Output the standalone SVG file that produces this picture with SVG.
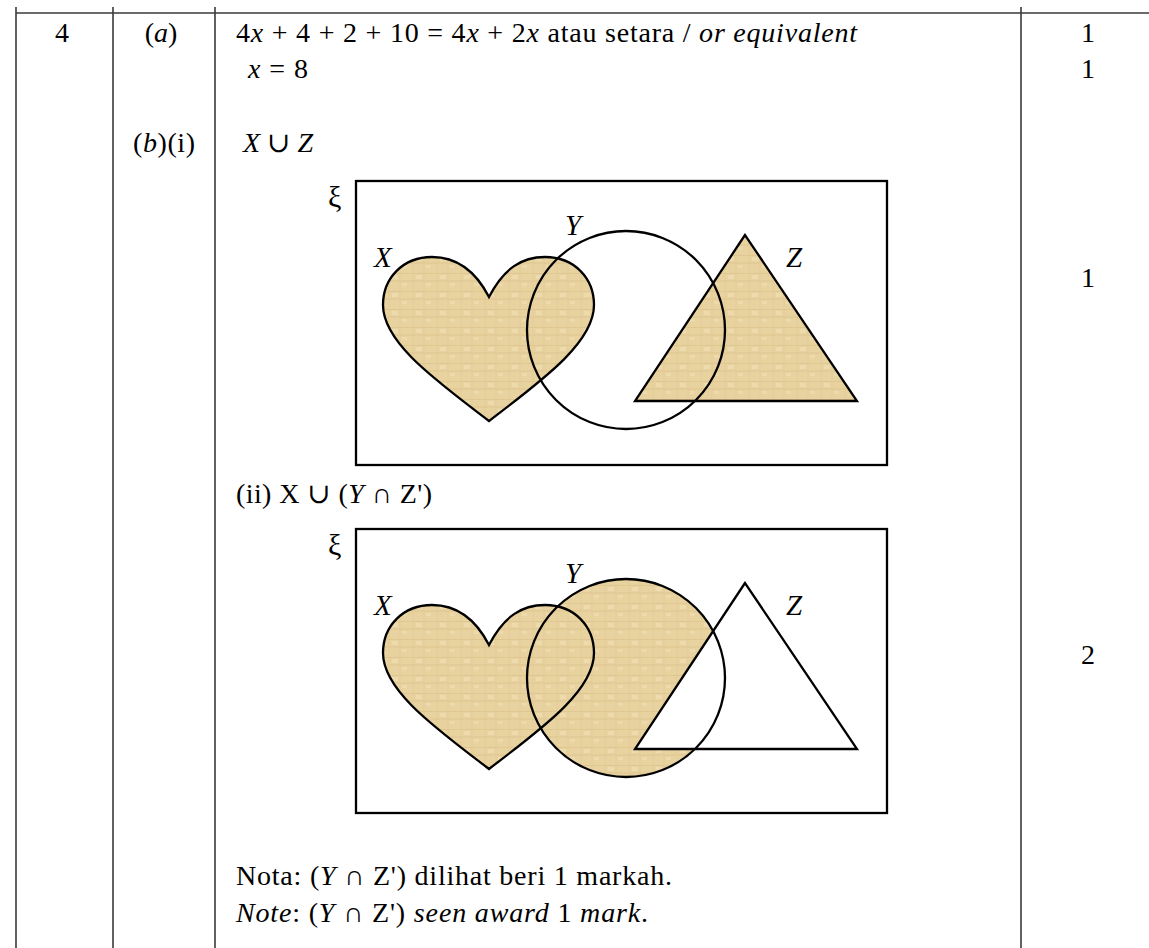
<svg xmlns="http://www.w3.org/2000/svg" width="1149" height="948" viewBox="0 0 1149 948">
<style>
svg text, svg tspan{font-family:'Liberation Serif','DejaVu Serif',serif}
text{font-size:28px;fill:#000}
.lbl{font-size:29px;font-style:italic}
.xi{font-size:30px}
.i{font-style:italic}
.grid{stroke:#3a3a3a;stroke-width:1.6;fill:none}
.frame{fill:none;stroke:#000;stroke-width:2.3}
.sh{stroke:#000;stroke-width:2.3;fill:none;stroke-linejoin:miter}
.tan{fill:url(#papyrus)}
.c{text-anchor:middle}
</style>
<defs>
<pattern id="papyrus" patternUnits="userSpaceOnUse" width="24" height="18">
<rect width="24" height="18" fill="#E8D29F"/>
<path d="M0 3.5H24M0 11H24" stroke="#D8BE87" stroke-width="1" opacity="0.55"/>
<path d="M5 0V18M16 0V18" stroke="#DDC48E" stroke-width="1" opacity="0.45"/>
<rect x="8" y="5" width="6" height="4" fill="#F0DFB4" opacity="0.7"/>
<rect x="18" y="13" width="5" height="3" fill="#F0DFB4" opacity="0.6"/>
</pattern>
<path id="heart" d="M489,297 C474,268 455,257 432,257 C403,257 383,278 383,305 C383,343 437,381 489,421 C541,381 594,343 594,305 C594,278 574,257 545,257 C522,257 504,268 489,297 Z"/>
</defs>

<g id="table">
<line class="grid" x1="16" y1="13" x2="1149" y2="13"/>
<line class="grid" x1="16" y1="7" x2="16" y2="948"/>
<line class="grid" x1="113" y1="7" x2="113" y2="948"/>
<line class="grid" x1="215" y1="7" x2="215" y2="948"/>
<line class="grid" x1="1021" y1="7" x2="1021" y2="948"/>
</g>

<g id="row-text">
<text x="62" y="42" class="c">4</text>
<text x="161" y="42" class="c">(<tspan class="i">a</tspan>)</text>
<text x="236" y="42" textLength="621" lengthAdjust="spacing">4<tspan class="i">x</tspan> + 4 + 2 + 10 = 4<tspan class="i">x</tspan> + 2<tspan class="i">x</tspan> atau setara / <tspan class="i">or equivalent</tspan></text>
<text x="248" y="78" textLength="60" lengthAdjust="spacing"><tspan class="i">x</tspan> = 8</text>
<text x="133" y="152" textLength="62" lengthAdjust="spacing">(<tspan class="i">b</tspan>)(i)</text>
<text x="243" y="152" class="i">X ∪ Z</text>
<text x="236" y="503" textLength="196" lengthAdjust="spacing">(ii) X ∪ (<tspan class="i">Y</tspan> ∩ Z')</text>
<text x="236" y="885" textLength="436" lengthAdjust="spacing">Nota: (<tspan class="i">Y</tspan> ∩ Z') dilihat beri 1 markah.</text>
<text x="236" y="922" textLength="412" lengthAdjust="spacing"><tspan class="i">Note</tspan>: (<tspan class="i">Y</tspan> ∩ Z') <tspan class="i">seen award</tspan> 1 <tspan class="i">mark</tspan>.</text>
</g>

<g id="marks">
<text x="1088" y="42" class="c">1</text>
<text x="1088" y="78" class="c">1</text>
<text x="1088" y="287" class="c">1</text>
<text x="1088" y="664" class="c">2</text>
</g>

<g id="venn1">
<rect class="frame" x="356" y="181" width="531" height="284"/>
<use href="#heart" class="tan"/>
<polygon class="tan" points="745,235 635,401 857,401"/>
<use href="#heart" class="sh"/>
<circle class="sh" cx="626" cy="330" r="99"/>
<polygon class="sh" points="745,235 635,401 857,401"/>
<text x="328" y="207" class="xi">ξ</text>
<text x="374" y="267" class="lbl">X</text>
<text x="565" y="235" class="lbl">Y</text>
<text x="786" y="267" class="lbl">Z</text>
</g>

<g id="venn2" transform="translate(0,348)">
<rect class="frame" x="356" y="181" width="531" height="284"/>
<circle class="tan" cx="626" cy="330" r="99"/>
<use href="#heart" class="tan"/>
<polygon fill="#fff" points="745,235 635,401 857,401"/>
<use href="#heart" class="sh"/>
<circle class="sh" cx="626" cy="330" r="99"/>
<polygon class="sh" points="745,235 635,401 857,401"/>
<text x="328" y="207" class="xi">ξ</text>
<text x="374" y="267" class="lbl">X</text>
<text x="565" y="235" class="lbl">Y</text>
<text x="786" y="267" class="lbl">Z</text>
</g>
</svg>
